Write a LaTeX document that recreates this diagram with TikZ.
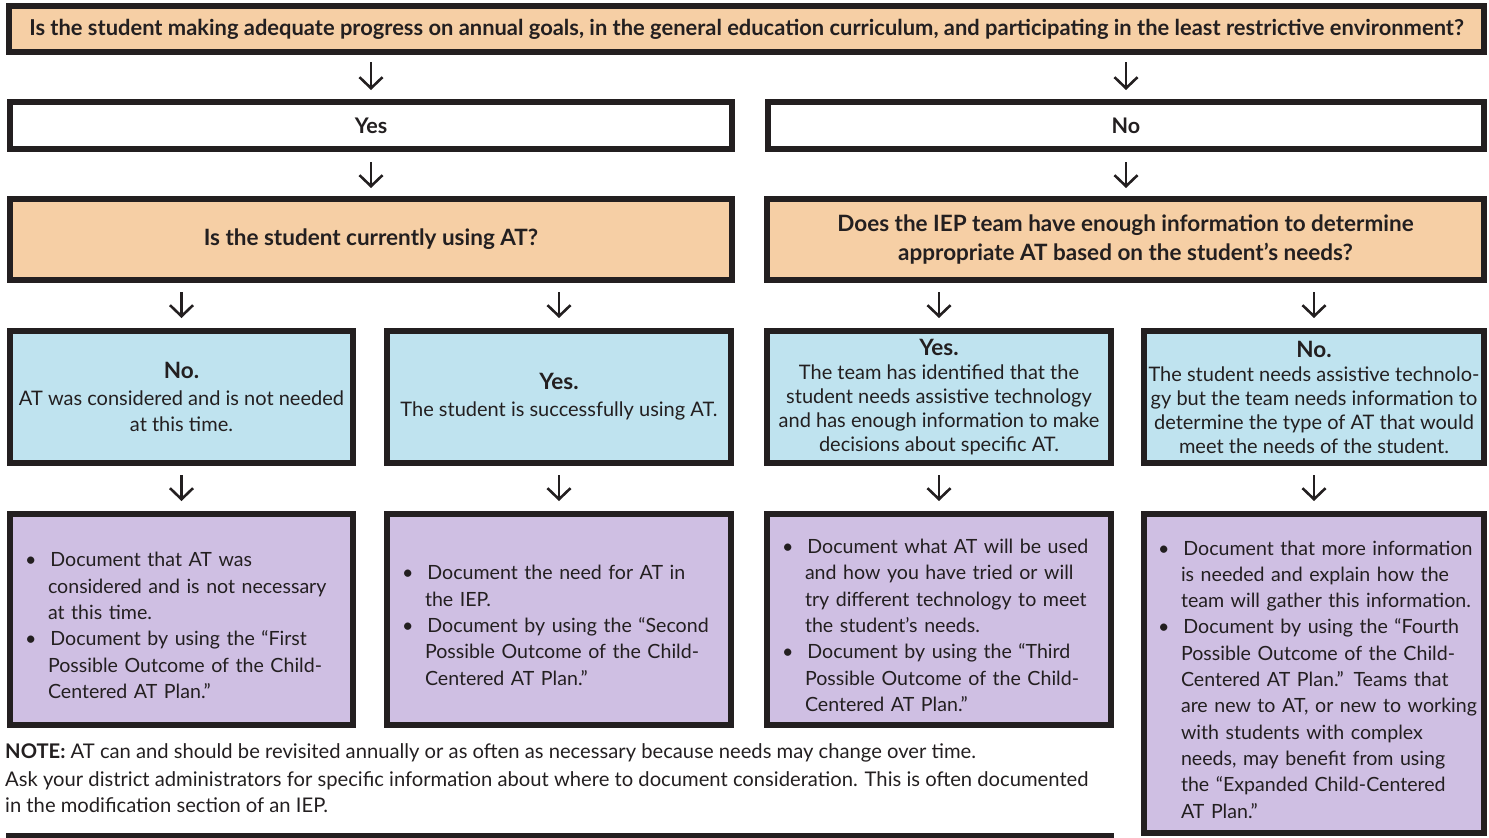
\documentclass[tikz,border=0pt]{standalone}
\usepackage{fontspec}
\setmainfont{Lato}
\usetikzlibrary{arrows.meta}
\definecolor{bord}{HTML}{231F20}
\definecolor{orangefill}{HTML}{F6CFA5}
\definecolor{bluefill}{HTML}{BFE3EF}
\definecolor{purpfill}{HTML}{CFBFE3}
\newenvironment{blist}{\begin{list}{\textbullet}{\setlength\leftmargin{23pt}\setlength\rightmargin{-40pt}\setlength\labelwidth{9pt}\setlength\labelsep{14pt}\setlength\itemsep{0pt}\setlength\parsep{0pt}\setlength\topsep{0pt}\setlength\partopsep{0pt}\setlength\itemindent{0pt}\setlength\listparindent{0pt}}}{\end{list}}
\newcommand\nl{\hfil\break}
\begin{document}
\begin{tikzpicture}[x=1pt,y=-1pt,
  box/.style={draw=bord, line width=6pt, inner sep=0pt, align=center, text=bord},
  qbox/.style={box, fill=orangefill, font=\bfseries\fontsize{22.5}{29}\selectfont},
  ynbox/.style={box, fill=white, font=\bfseries\fontsize{21.5}{23}\selectfont},
  bluebox/.style={box, fill=bluefill, font=\fontsize{20}{24}\selectfont},
  purpbox/.style={box, fill=purpfill, align=left, font=\fontsize{19.6}{26.3}\selectfont},
  arr/.style={draw=bord, line width=2.6pt, -{Straight Barb[length=11pt,width=23pt,line width=2.6pt]}}
]
\useasboundingbox (0,0) rectangle (1489,838);

\node[qbox, minimum width=1475pt, minimum height=46pt, font=\bfseries\fontsize{21.9}{24}\selectfont] (top) at (746.5,29)
  {Is the student making adequate progress on annual goals, in the general education curriculum, and participating in the least restrictive environment?};

\node[ynbox, minimum width=722pt, minimum height=47pt] (yes) at (371,125.5) {Yes};
\node[ynbox, minimum width=716pt, minimum height=47pt] (no) at (1126,125.5) {No};

\node[qbox, minimum width=722pt, minimum height=81pt] (using) at (371,239.5) {Is the student currently using AT?};
\node[qbox, minimum width=717pt, minimum height=81pt] (info) at (1125.5,239.5)
  {Does the IEP team have enough information to determine\\appropriate AT based on the student’s needs?};

\node[bluebox, minimum width=343pt, minimum height=132pt] (b1) at (181.5,397)
  {{\bfseries\fontsize{22.5}{24}\selectfont No.}\\[3pt]AT was considered and is not needed\\[2pt]at this time.};
\node[bluebox, minimum width=344pt, minimum height=132pt] (b2) at (559,397)
  {{\bfseries\fontsize{22.5}{24}\selectfont Yes.}\\[3pt]The student is successfully using AT.};
\node[bluebox, minimum width=344pt, minimum height=132pt] (b3) at (939,397)
  {{\bfseries\fontsize{22.5}{24}\selectfont Yes.}\\The team has identified that the\\student needs assistive technology\\and has enough information to make\\decisions about specific AT.};
\node[bluebox, minimum width=340pt, minimum height=132pt] (b4) at (1314,397)
  {{\bfseries\fontsize{22.5}{24}\selectfont No.}\\The student needs assistive technolo-\\gy but the team needs information to\\determine the type of AT that would\\meet the needs of the student.};

\node[purpbox, minimum width=343pt, minimum height=211pt, text width=313pt] (p1) at (181.5,619.5)
  {\begin{blist}
   \item Document that AT was\nl considered and is not necessary\nl at this time.
   \item Document by using the “First\nl Possible Outcome of the Child-\nl Centered AT Plan.”
   \end{blist}};
\node[purpbox, minimum width=344pt, minimum height=211pt, text width=314pt] (p2) at (559,619.5)
  {\begin{blist}
   \item Document the need for AT in\nl the IEP.
   \item Document by using the “Second\nl Possible Outcome of the Child-\nl Centered AT Plan.”
   \end{blist}};
\node[purpbox, minimum width=344pt, minimum height=211pt, text width=314pt] (p3) at (939,619.5)
  {\begin{blist}
   \item Document what AT will be used\nl and how you have tried or will\nl try different technology to meet\nl the student’s needs.
   \item Document by using the “Third\nl Possible Outcome of the Child-\nl Centered AT Plan.”
   \end{blist}};
\node[purpbox, minimum width=340pt, minimum height=319pt, text width=312pt] (p4) at (1314,673.5)
  {\begin{blist}
   \item Document that more information\nl is needed and explain how the\nl team will gather this information.
   \item Document by using the “Fourth\nl Possible Outcome of the Child-\nl Centered AT Plan.” Teams that\nl are new to AT, or new to working\nl with students with complex\nl needs, may benefit from using\nl the “Expanded Child-Centered\nl AT Plan.”
   \end{blist}};

% arrows
\draw[arr, shorten <=7pt, shorten >=9pt] (top.south -| yes.north) -- (yes.north);
\draw[arr, shorten <=7pt, shorten >=9pt] (top.south -| no.north) -- (no.north);
\draw[arr, shorten <=10pt, shorten >=8pt] (yes.south) -- (using.north);
\draw[arr, shorten <=10pt, shorten >=8pt] (no.south) -- (no.south |- info.north);
\draw[arr, shorten <=9pt, shorten >=10pt] (using.south -| b1.north) -- (b1.north);
\draw[arr, shorten <=9pt, shorten >=10pt] (using.south -| b2.north) -- (b2.north);
\draw[arr, shorten <=9pt, shorten >=10pt] (info.south -| b3.north) -- (b3.north);
\draw[arr, shorten <=9pt, shorten >=10pt] (info.south -| b4.north) -- (b4.north);
\draw[arr, shorten <=9pt, shorten >=10pt] (b1.south) -- (p1.north);
\draw[arr, shorten <=9pt, shorten >=10pt] (b2.south) -- (p2.north);
\draw[arr, shorten <=9pt, shorten >=10pt] (b3.south) -- (p3.north);
\draw[arr, shorten <=9pt, shorten >=10pt] (b4.south) -- (p4.north);

% note
\node[anchor=west, inner sep=0pt, text=bord, font=\fontsize{20.2}{26}\selectfont] (note1) at (5,753)
  {\textbf{NOTE:} AT can and should be revisited annually or as often as necessary because needs may change over time.};
\node[anchor=north west, inner sep=0pt, text=bord, align=left, font=\fontsize{20.2}{26}\selectfont] (note2) at (5,771)
  {Ask your district administrators for specific information about where to document consideration. This is often documented\\in the modification section of an IEP.};

\draw[bord, line width=5pt] (6,835.5) -- (1114,835.5);
\end{tikzpicture}
\end{document}
